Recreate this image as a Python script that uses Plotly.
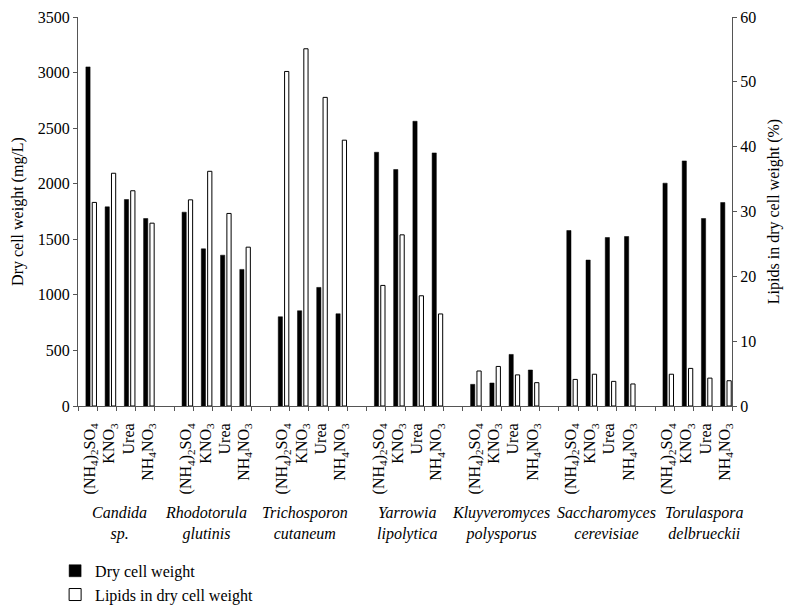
import plotly.graph_objects as go

yeast_genus = ["Candida", "Rhodotorula", "Trichosporon", "Yarrowia",
               "Kluyveromyces", "Saccharomyces", "Torulaspora"]
yeast_species = ["sp.", "glutinis", "cutaneum", "lipolytica",
                 "polysporus", "cerevisiae", "delbrueckii"]
nitrogen = ["(NH<sub>4</sub>)<sub>2</sub>SO<sub>4</sub>", "KNO<sub>3</sub>",
            "Urea", "NH<sub>4</sub>NO<sub>3</sub>"]

# Dry cell weight (mg/L), per yeast, per nitrogen source
dry_weight = [
    [3051, 1792, 1858, 1687],
    [1744, 1414, 1357, 1229],
    [803, 857, 1067, 830],
    [2283, 2128, 2562, 2277],
    [195, 207, 464, 324],
    [1579, 1313, 1516, 1525],
    [2005, 2205, 1687, 1831],
]
# Lipids in dry cell weight (%)
lipids = [
    [31.4, 35.9, 33.2, 28.2],
    [31.8, 36.2, 29.7, 24.5],
    [51.6, 55.1, 47.6, 41.0],
    [18.6, 26.4, 17.0, 14.2],
    [5.4, 6.1, 4.8, 3.6],
    [4.1, 4.9, 3.8, 3.4],
    [4.9, 5.8, 4.3, 3.9],
]

left_ticks = [0, 500, 1000, 1500, 2000, 2500, 3000, 3500]
right_ticks = [0, 10, 20, 30, 40, 50, 60]

FONT = "Liberation Serif, Times New Roman, serif"
AX = "#555555"
FS = 16

n_per = len(nitrogen)
step = n_per + 1
slots, dw, lp, tickpos, ticktext = [], [], [], [], []
for g in range(len(yeast_genus)):
    for n in range(n_per):
        s = g * step + n
        slots.append(s)
        dw.append(dry_weight[g][n])
        lp.append(lipids[g][n])
        tickpos.append(s + 0.62)
        ticktext.append(nitrogen[n])
n_slots = len(yeast_genus) * step - 1

fig = go.Figure()
fig.add_trace(go.Bar(
    x=slots, y=dw, name="Dry cell weight", offset=0.41, width=0.22,
    marker=dict(color="black", line=dict(color="black", width=0.5)),
    yaxis="y",
))
fig.add_trace(go.Bar(
    x=slots, y=lp, name="Lipids in dry cell weight", offset=0.74, width=0.22,
    marker=dict(color="white", line=dict(color="black", width=1)),
    yaxis="y2",
))

label_shift = [3, -7, -4, 2, 0, 9, 11]  # px nudges of group captions
annotations = []
for g in range(len(yeast_genus)):
    center = g * step + n_per / 2
    annotations.append(dict(
        x=center, xref="x", y=-0.301, yref="paper", xshift=label_shift[g],
        text="<i>%s</i><br><i>%s</i>" % (yeast_genus[g], yeast_species[g]),
        showarrow=False, xanchor="center", yanchor="middle",
        font=dict(family=FONT, size=FS, color="black"),
    ))

# page body has an 8px margin, so the figure is 8px smaller on each side
fig.update_layout(
    width=787, height=603,
    margin=dict(l=70, r=63, t=9, b=205, autoexpand=False),
    paper_bgcolor="white", plot_bgcolor="white",
    barmode="overlay",
    font=dict(family=FONT, size=FS, color="black"),
    showlegend=True,
    legend=dict(x=-0.035, y=-0.380, xanchor="left", yanchor="top",
                font=dict(family=FONT, size=FS, color="black"),
                tracegroupgap=0, bgcolor="rgba(0,0,0,0)"),
    xaxis=dict(
        range=[0, n_slots], showgrid=False, zeroline=False, automargin=False,
        showline=True, linecolor=AX, linewidth=1,
        tickmode="array", tickvals=tickpos, ticktext=ticktext,
        tickangle=-90, ticks="", ticklen=0, ticklabelstandoff=10,
        tickfont=dict(family=FONT, size=FS, color="black"),
        minor=dict(tickmode="linear", tick0=0, dtick=1, ticks="outside",
                   ticklen=4, tickcolor=AX, showgrid=False),
    ),
    yaxis=dict(
        range=[0, 3500], tickvals=left_ticks, showgrid=False, zeroline=False,
        automargin=False,
        showline=True, linecolor=AX, linewidth=1, ticks="outside",
        ticklen=4, tickcolor=AX,
        title=dict(text="Dry cell weight (mg/L)", standoff=10,
                   font=dict(family=FONT, size=FS, color="black")),
        tickfont=dict(family=FONT, size=FS, color="black"),
    ),
    yaxis2=dict(
        range=[0, 60], tickvals=right_ticks, overlaying="y", side="right",
        automargin=False,
        showgrid=False, zeroline=False, showline=True, linecolor=AX,
        linewidth=1, ticks="outside", ticklen=4, tickcolor=AX,
        title=dict(text="Lipids in dry cell weight (%)", standoff=12,
                   font=dict(family=FONT, size=FS, color="black")),
        tickfont=dict(family=FONT, size=FS, color="black"),
    ),
    annotations=annotations,
)

fig.write_html("out.html")
